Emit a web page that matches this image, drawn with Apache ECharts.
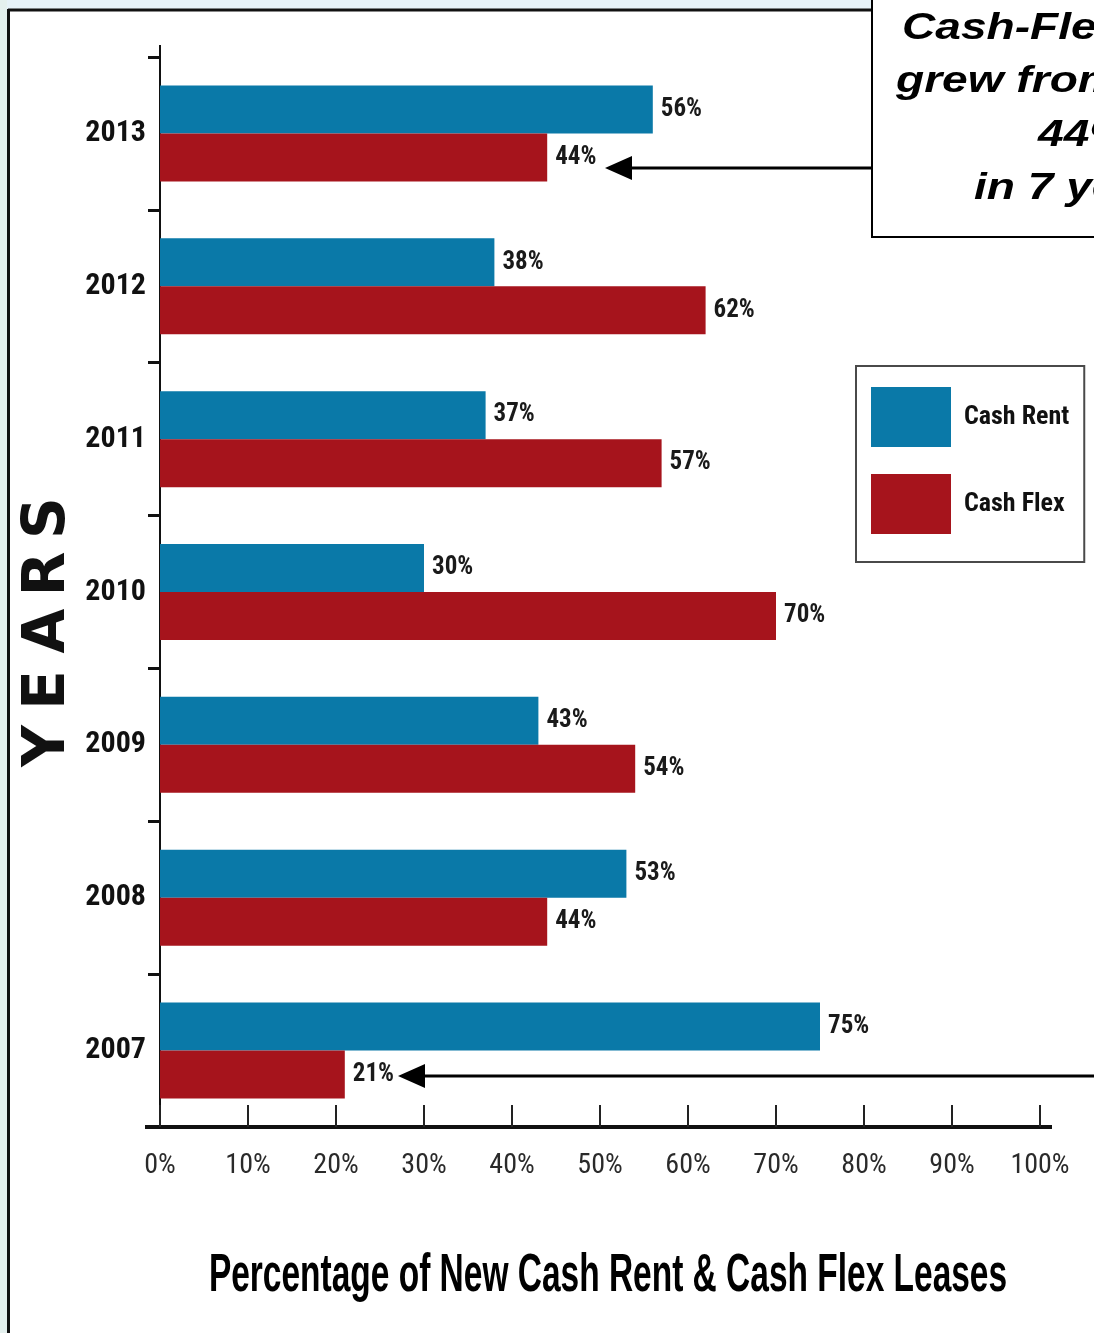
<!DOCTYPE html>
<html>
<head>
<meta charset="utf-8">
<script src="https://cdn.jsdelivr.net/npm/echarts@6/dist/echarts.min.js"></script>
<style>
  html, body { margin: 0; padding: 0; background: #fff; }
  #chart { width: 1094px; height: 1333px; }
</style>
</head>
<body>
<div id="chart"></div>
<script>
// Lease mix by year (percent of new leases)
const years = ['2007', '2008', '2009', '2010', '2011', '2012', '2013'];
const cashRent = [75, 53, 43, 30, 37, 38, 56];
const cashFlex = [21, 44, 54, 70, 57, 62, 44];
const seriesNames = ['Cash Rent', 'Cash Flex'];
const xMin = 0, xMax = 100, xStep = 10;

const NARROW = '"Roboto Condensed", "DejaVu Sans Condensed", sans-serif';
const SANS = '"Liberation Sans", Arial, sans-serif';
const BLUE = '#0a79a8';
const RED = '#a6141c';

const chart = echarts.init(document.getElementById('chart'));

const valueLabel = {
  show: true,
  position: 'right',
  distance: 8,
  formatter: '{c}%',
  fontFamily: NARROW,
  fontWeight: 'bold',
  fontSize: 25,
  color: '#1a1a1a'
};

// Vertical "YEARS" caption, one letter at a time for wide tracking
const yearsLetters = [['Y', 746], ['E', 690], ['A', 631], ['R', 574], ['S', 518]].map(([ch, y]) => ({
  type: 'text',
  x: 49, y: y,
  rotation: Math.PI / 2,
  style: {
    text: ch, fill: '#111',
    font: 'bold 58px "DejaVu Sans", sans-serif',
    align: 'center', verticalAlign: 'middle'
  }
}));

function arrow(x1, x2, y) {
  // x1: tip of the head, x2: tail end
  return [
    { type: 'line', shape: { x1: x1 + 22, y1: y, x2: x2, y2: y }, style: { stroke: '#000', lineWidth: 3 } },
    { type: 'polygon', shape: { points: [[x1, y], [x1 + 27, y - 12], [x1 + 27, y + 12]] }, style: { fill: '#000' } }
  ];
}

const calloutLines = [
  ['Cash-Flex leases', 902, 29],
  ['grew from 21% to', 896, 82],
  ['44%', 1038, 136],
  ['in 7 years', 974, 189]
].map(([t, x, y]) => ({
  type: 'text', x: x, y: y, scaleX: 1.28, z: 101,
  style: {
    text: t, fill: '#000',
    font: 'italic bold 36px ' + SANS,
    align: 'left', verticalAlign: 'middle'
  }
}));

const option = {
  backgroundColor: '#ffffff',
  animation: false,
  grid: { left: 160, right: 54, top: 57, bottom: 206, containLabel: false },
  legend: {
    data: seriesNames,
    orient: 'vertical',
    left: 856, top: 366,
    icon: 'rect',
    itemWidth: 80, itemHeight: 60, itemGap: 27,
    padding: [21, 15, 28, 15],
    backgroundColor: '#fff',
    borderColor: '#4a4a4a', borderWidth: 2,
    textStyle: { fontFamily: NARROW, fontWeight: 'bold', fontSize: 26, color: '#111', padding: [0, 0, 0, 8] }
  },
  xAxis: {
    type: 'value', min: xMin, max: xMax, interval: xStep,
    axisLine: { show: true, lineStyle: { color: '#111', width: 4 } },
    axisTick: { show: true, inside: true, length: 22, lineStyle: { color: '#222', width: 2 } },
    axisLabel: { formatter: '{value}%', fontFamily: NARROW, fontSize: 28, color: '#2a2a2a', margin: 25 },
    splitLine: { show: false }
  },
  yAxis: {
    type: 'category', data: years,
    axisLine: { show: true, lineStyle: { color: '#111', width: 2 } },
    axisTick: { show: true, length: 12, lineStyle: { color: '#111', width: 3 } },
    axisLabel: { fontFamily: NARROW, fontWeight: 'bold', fontSize: 30, color: '#111', margin: 14 }
  },
  series: [
    { name: seriesNames[0], type: 'bar', data: cashRent, barWidth: 48, barGap: '0%', itemStyle: { color: BLUE }, label: valueLabel },
    { name: seriesNames[1], type: 'bar', data: cashFlex, barWidth: 48, barGap: '0%', itemStyle: { color: RED }, label: valueLabel }
  ],
  graphic: [
    // page tint and frame
    { type: 'rect', shape: { x: 0, y: 0, width: 1094, height: 9 }, style: { fill: '#e6f2f8' }, z: 100 },
    { type: 'rect', shape: { x: 0, y: 0, width: 7, height: 1333 }, style: { fill: '#e4f0ee' }, z: 100 },
    { type: 'line', shape: { x1: 8, y1: 10, x2: 872, y2: 10 }, style: { stroke: '#111', lineWidth: 3 }, z: 100 },
    { type: 'line', shape: { x1: 8.5, y1: 9, x2: 8.5, y2: 1333 }, style: { stroke: '#111', lineWidth: 3 }, z: 100 },
    // axis line extensions
    { type: 'line', shape: { x1: 160, y1: 45, x2: 160, y2: 57 }, style: { stroke: '#111', lineWidth: 2 } },
    { type: 'line', shape: { x1: 145, y1: 1127, x2: 1052, y2: 1127 }, style: { stroke: '#111', lineWidth: 4 } },
    // callout box
    { type: 'rect', shape: { x: 872, y: -5, width: 240, height: 242 }, style: { fill: '#fff', stroke: '#000', lineWidth: 2 }, z: 100 },
    ...calloutLines,
    ...arrow(605, 872, 168),
    ...arrow(398, 1094, 1076),
    ...yearsLetters,
    // horizontal axis caption
    {
      type: 'text', x: 608, y: 1276, scaleX: 0.62,
      style: {
        text: 'Percentage of New Cash Rent & Cash Flex Leases', fill: '#000',
        font: 'bold 54px ' + SANS,
        align: 'center', verticalAlign: 'middle'
      }
    }
  ]
};

chart.setOption(option);
</script>
</body>
</html>
